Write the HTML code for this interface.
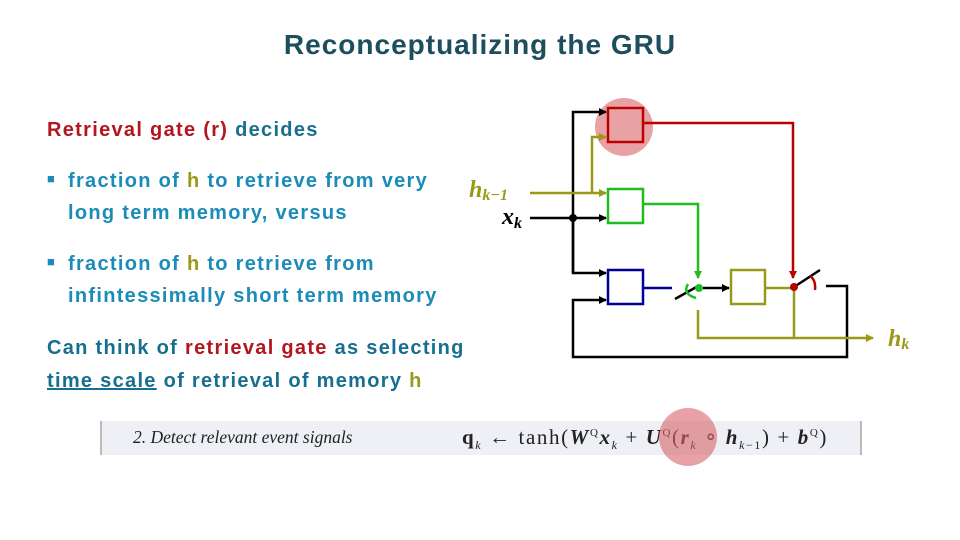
<!DOCTYPE html>
<html><head><meta charset="utf-8"><style>
body{margin:0;width:960px;height:540px;background:#fff;position:relative;overflow:hidden;font-family:"Liberation Sans",sans-serif;}
.t{position:absolute;white-space:nowrap;font-weight:bold;font-size:20px;letter-spacing:1.3px;line-height:1;}
.b{color:#1b8bb8}.d{color:#176f8f}.r{color:#b3161e}.o{color:#9a9a1a}
</style></head><body>
<div class="t" style="left:0;width:960px;text-align:center;top:31px;font-size:28px;color:#1d4e5e;letter-spacing:1px">Reconceptualizing the GRU</div>
<div class="t d" style="left:47px;top:120px"><span class="r">Retrieval gate (r)</span> decides</div>
<div class="t b" style="left:47px;top:172px;font-size:13px">&#9632;</div>
<div class="t b" style="left:68px;top:171px">fraction of <span class="o">h</span> to retrieve from very</div>
<div class="t b" style="left:68px;top:203px">long term memory, versus</div>
<div class="t b" style="left:47px;top:255px;font-size:13px">&#9632;</div>
<div class="t b" style="left:68px;top:254px">fraction of <span class="o">h</span> to retrieve from</div>
<div class="t b" style="left:68px;top:286px">infintessimally short term memory</div>
<div class="t d" style="left:47px;top:338px">Can think of <span class="r">retrieval gate</span> as selecting</div>
<div class="t d" style="left:47px;top:371px"><u>time scale</u> of retrieval of memory <span class="o">h</span></div>

<div style="position:absolute;left:100px;top:421px;width:758px;height:34px;background:#eef0f6;border-left:2px solid #bbb;border-right:2px solid #bbb"></div>
<div style="position:absolute;left:133px;top:427px;font-family:'Liberation Serif',serif;font-style:italic;font-size:17.5px;color:#222;white-space:nowrap">2. Detect relevant event signals</div>
<div style="position:absolute;left:462px;top:425px;font-family:'Liberation Serif',serif;font-size:21px;letter-spacing:1.6px;color:#222;white-space:nowrap"><b>q</b><sub style="font-size:12px"><i>k</i></sub> ← tanh(<b><i>W</i></b><sup style="font-size:11px">Q</sup><b><i>x</i></b><sub style="font-size:12px"><i>k</i></sub> + <b><i>U</i></b><sup style="font-size:11px">Q</sup>(<b><i>r</i></b><sub style="font-size:12px"><i>k</i></sub> ∘ <b><i>h</i></b><sub style="font-size:12px"><i>k</i>−1</sub>) + <b><i>b</i></b><sup style="font-size:11px">Q</sup>)</div>

<svg width="960" height="540" style="position:absolute;left:0;top:0">
<defs>
<marker id="ak" markerWidth="8" markerHeight="8" refX="7" refY="4" orient="auto" markerUnits="userSpaceOnUse"><path d="M0,0L8,4L0,8z" fill="#000"/></marker>
<marker id="ao" markerWidth="8" markerHeight="8" refX="7" refY="4" orient="auto" markerUnits="userSpaceOnUse"><path d="M0,0L8,4L0,8z" fill="#9a9a1a"/></marker>
<marker id="ar" markerWidth="8" markerHeight="8" refX="7" refY="4" orient="auto" markerUnits="userSpaceOnUse"><path d="M0,0L8,4L0,8z" fill="#b00"/></marker>
<marker id="ag" markerWidth="8" markerHeight="8" refX="7" refY="4" orient="auto" markerUnits="userSpaceOnUse"><path d="M0,0L8,4L0,8z" fill="#2b2"/></marker>
</defs>
<circle cx="624" cy="127" r="29" fill="#d9646a" opacity="0.6"/>
<circle cx="688" cy="437" r="29" fill="#d9646a" opacity="0.6"/>
<g fill="none" stroke-width="2.5">
<path d="M573,273V112H606" stroke="#000" marker-end="url(#ak)"/>
<path d="M573,218V273H606" stroke="#000" marker-end="url(#ak)"/>
<path d="M530,218H606" stroke="#000" marker-end="url(#ak)"/>
<path d="M530,193H606" stroke="#9a9a1a" marker-end="url(#ao)"/>
<path d="M592,193V137H606" stroke="#9a9a1a" marker-end="url(#ao)"/>
<path d="M826,286H847V357H573V300H606" stroke="#000" marker-end="url(#ak)"/>
<path d="M643,123H793V278" stroke="#b00" marker-end="url(#ar)"/>
<path d="M643,204H698V278" stroke="#2b2" marker-end="url(#ag)"/>
<path d="M643,288H672" stroke="#009"/>
<path d="M675,299L700,285" stroke="#000"/>
<path d="M703,288H729" stroke="#000" marker-end="url(#ak)"/>
<path d="M765,288H794" stroke="#9a9a1a"/>
<path d="M794,287L820,270" stroke="#000"/>
<path d="M698,310V338H873" stroke="#9a9a1a" marker-end="url(#ao)"/>
<path d="M794,288V338" stroke="#9a9a1a"/>
<path d="M688,284Q682,294 696,298" stroke="#2b2"/>
<path d="M810,276Q816,280 815,290" stroke="#b00"/>
<rect x="608" y="108" width="35" height="34" stroke="#b00" fill="none"/>
<rect x="608" y="189" width="35" height="34" stroke="#2b2"/>
<rect x="608" y="270" width="35" height="34" stroke="#009"/>
<rect x="731" y="270" width="34" height="34" stroke="#9a9a1a"/>
</g>
<circle cx="573" cy="218" r="4" fill="#000"/>
<circle cx="699" cy="288" r="4" fill="#2b2"/>
<circle cx="794" cy="287" r="4" fill="#b00"/>
<text x="469" y="197" font-family="Liberation Serif" font-weight="bold" font-style="italic" font-size="24" fill="#9a9a1a">h<tspan font-size="16" dy="3">k−1</tspan></text>
<text x="502" y="224" font-family="Liberation Serif" font-weight="bold" font-style="italic" font-size="24" fill="#000">x<tspan font-size="16" dy="4">k</tspan></text>
<text x="888" y="346" font-family="Liberation Serif" font-weight="bold" font-style="italic" font-size="24" fill="#9a9a1a">h<tspan font-size="16" dy="3">k</tspan></text>
</svg>
</body></html>
